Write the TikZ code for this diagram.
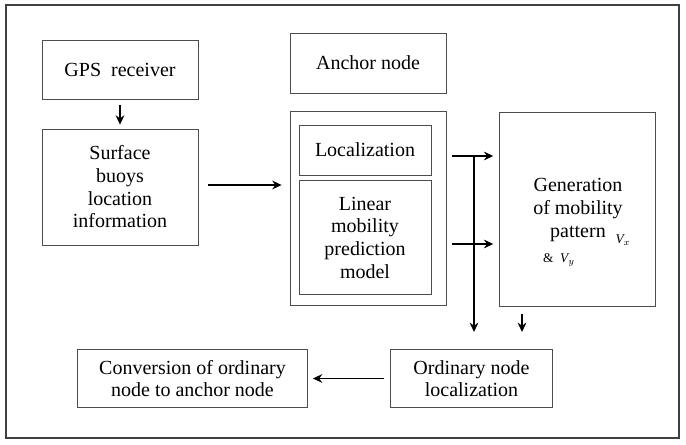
\documentclass[tikz,border=0pt]{standalone}
\usepackage{fontspec}
\setmainfont{Liberation Serif}
\usetikzlibrary{arrows.meta}
\tikzset{
  blk/.style={draw=black!70,line width=0.6pt,align=center,inner sep=0pt,
    font=\fontsize{15}{17}\selectfont},
  arr/.style={-{Stealth[length=7pt,width=6.5pt]},line width=1.1pt}
}
\begin{document}
\begin{tikzpicture}[x=0.75pt,y=-0.75pt]
\useasboundingbox (0,0) rectangle (686,445);
\draw[black!75,line width=0.8pt] (6,5) rectangle (679,438);
\node[blk,minimum width=117pt,minimum height=44pt] (gps) at (120,70) {GPS\ \ receiver};
\node[blk,minimum width=117pt,minimum height=87pt] (buoy) at (120,187) {Surface\\buoys\\location\\information};
\node[blk,minimum width=117pt,minimum height=45pt] (anc) at (368,63) {Anchor node};
\node[blk,minimum width=117pt,minimum height=145.5pt] (box) at (368,208) {};
\node[blk,minimum width=99pt,minimum height=37.5pt] (loc) at (365,150) {Localization};
\node[blk,minimum width=99pt,minimum height=86pt] (lin) at (365,237.5) {Linear\\mobility\\prediction\\model};
\node[blk,minimum width=117pt,minimum height=145.5pt] (gen) at (577,209) {};
\node[font=\fontsize{15}{17}\selectfont,align=center] (gtxt) at (578,210) {Generation\\of mobility\\pattern};
\node[font=\fontsize{10}{11}\selectfont\itshape] (vx) at (623,240) {V$_x$};
\node[font=\fontsize{10}{11}\selectfont] (vy) at (559,260) {\&\ \ \textit{V$_y$}};
\node[blk,minimum width=122pt,minimum height=44pt] (ord) at (471.5,378.5) {Ordinary node\\localization};
\node[blk,minimum width=172pt,minimum height=44pt] (conv) at (192.5,378.5) {Conversion of ordinary\\node to anchor node};
\coordinate (tap) at (474,156);
\coordinate (drop) at (474,332);
\coordinate (gdrop) at (522,332);
\draw[arr] ([yshift=-4pt]gps.south) -- ([yshift=3pt]buoy.north);
\draw[arr] ([xshift=7pt]buoy.east |- 0,185) -- ([xshift=-6pt]box.west |- 0,185);
\draw[arr] ([xshift=4pt]box.east |- tap) -- ([xshift=-4pt]gen.west |- tap);
\draw[arr] ([xshift=4pt]box.east |- 0,244) -- ([xshift=-4pt]gen.west |- 0,244);
\draw[arr] (tap) -- (drop);
\draw[arr] ([yshift=-6pt]gen.south -| gdrop) -- (gdrop);
\draw[arr] ([xshift=-4pt]ord.west) -- ([xshift=4pt]conv.east);
\end{tikzpicture}
\end{document}
